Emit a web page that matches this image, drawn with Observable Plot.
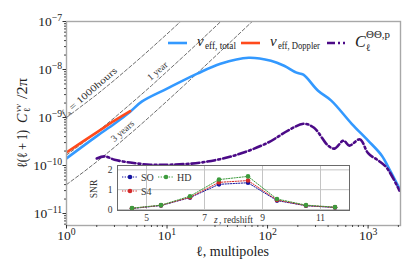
<!DOCTYPE html>
<html><head><meta charset="utf-8">
<script src="https://cdn.jsdelivr.net/npm/d3@7"></script>
<script src="https://cdn.jsdelivr.net/npm/@observablehq/plot@0.6"></script>
<style>
body{margin:0;background:#fff;}
#wrap{position:relative;width:415px;height:272px;overflow:hidden;background:#fff;font-family:"Liberation Serif","Times New Roman","DejaVu Serif",serif}
#wrap svg{position:absolute;}
#wrap text{font-family:"Liberation Serif","Times New Roman","DejaVu Serif",serif}
</style></head><body><div id="wrap"></div>
<script>
// ---- main panel data ----
const ellTotal = [1, 2, 3, 4.3, 5.6, 10, 20, 34, 65, 108, 146, 194, 227, 318, 430, 687, 1000, 1370, 1650, 2050];
const vTotal   = [1.41e-10, 4.1e-10, 7.4e-10, 1.32e-9, 2.14e-9, 4.0e-9, 8.2e-9, 1.32e-8, 1.76e-8, 1.52e-8, 1.2e-8, 8.6e-9, 7.8e-9, 3.6e-9, 2.25e-9, 7.4e-10, 3.3e-10, 1.6e-10, 7.9e-11, 3.3e-11];
const ellDop   = [1, 2, 3, 4.3];
const vDop     = [1.87e-10, 4.9e-10, 8.6e-10, 1.36e-9];
const ellTheta = [2, 2.4, 3, 4.3, 6.8, 10.8, 21.6, 46, 101, 161, 230, 290, 400, 463, 570, 650, 830, 1000, 1270, 1530, 2050];
const vTheta   = [1.4e-10, 1.55e-10, 1.32e-10, 1.15e-10, 1.04e-10, 1.04e-10, 1.15e-10, 1.6e-10, 3.0e-10, 5.4e-10, 7.4e-10, 6.1e-10, 2.6e-10, 2.25e-10, 3.3e-10, 2.6e-10, 3.5e-10, 1.8e-10, 1.26e-10, 9e-11, 3e-11];
const ellNoise = [1, 1.5, 2, 3, 5, 7, 10, 15, 20, 30, 50, 70, 100];
const n1000h   = [1e-9, 1.9e-9, 3e-9, 6e-9, 1.5e-8, 2.8e-8, 5.5e-8, 1.2e-7, 2.1e-7, 4.6e-7, 1.3e-6, 2.5e-6, 5e-6];
const n1yr     = [1.65e-10, 3.1e-10, 4.95e-10, 9.9e-10, 2.48e-9, 4.6e-9, 9.1e-9, 1.98e-8, 3.47e-8, 7.7e-8, 2.1e-7, 4.1e-7, 8.3e-7];
const n3yr     = [4e-11, 7.5e-11, 1.2e-10, 2.4e-10, 6e-10, 1.12e-9, 2.2e-9, 4.8e-9, 8.4e-9, 1.86e-8, 5.1e-8, 9.9e-8, 2.02e-7];
const noiseLabelEll = [1.9, 8.9, 4.0];
const noiseLabelV   = [2.75e-9, 7.3e-9, 4.1e-10];
const xMajor = [1, 10, 100, 1000];
const yMajor = [1e-11, 1e-10, 1e-9, 1e-8, 1e-7];

// ---- inset data ----
const zs     = [4.5, 5.5, 6.5, 7.5, 8.5, 9.5, 10.5, 11.5];
const snrSO  = [0.05, 0.2, 0.6, 1.27, 1.35, 0.45, 0.19, 0.1];
const snrS4  = [0.06, 0.21, 0.62, 1.37, 1.46, 0.48, 0.2, 0.11];
const snrHD  = [0.07, 0.22, 0.67, 1.51, 1.67, 0.53, 0.22, 0.12];
const insetXTicks = [5, 7, 9, 11];
const insetYTicks = [0, 1, 2];

const W = 415, H = 272;
const serif = "Liberation Serif, Times New Roman, DejaVu Serif, serif";
const ns = "http://www.w3.org/2000/svg";
const wrap = document.getElementById("wrap");

const rows = (xs, ys, kx, ky) => xs.map((v, i) => ({[kx]: v, [ky]: ys[i]}));
const total = rows(ellTotal, vTotal, "ell", "v");
const dop = rows(ellDop, vDop, "ell", "v");
const theta = rows(ellTheta, vTheta, "ell", "v");
const nA = rows(ellNoise, n1000h, "ell", "v");
const nB = rows(ellNoise, n1yr, "ell", "v");
const nC = rows(ellNoise, n3yr, "ell", "v");

const yLo = Math.pow(10, -11.25);
const minorX = [], minorY = [];
for (let k = 0; k < 4; k++) for (let m = 2; m < 10; m++) { const v = m * Math.pow(10, k); if (v <= 2100) minorX.push(v); }
for (let k = -12; k < -7; k++) for (let m = 2; m < 10; m++) { const v = m * Math.pow(10, k); if (v >= yLo && v <= 1e-7) minorY.push(v); }

const expFmt = d => "10^" + Math.round(Math.log10(d));
const dashStyle = {x: "ell", y: "v", stroke: "#6e6e6e", strokeWidth: 1, strokeDasharray: "3.5,2.2", clip: true};

const main = Plot.plot({
  width: W, height: H, marginLeft: 66, marginRight: 15, marginTop: 21, marginBottom: 47,
  style: {fontFamily: serif, fontSize: "13.5px", background: "transparent", color: "#222"},
  x: {type: "log", domain: [1, 2100], label: null},
  y: {type: "log", domain: [yLo, 1e-7], label: null},
  marks: [
    Plot.line(nA, dashStyle),
    Plot.line(nB, dashStyle),
    Plot.line(nC, dashStyle),
    Plot.line(total, {x: "ell", y: "v", stroke: "#3399ff", strokeWidth: 2.6, curve: "catmull-rom", clip: true}),
    Plot.line(dop, {x: "ell", y: "v", stroke: "#ff4a1c", strokeWidth: 2.6, curve: "catmull-rom", clip: true}),
    Plot.line(theta, {x: "ell", y: "v", stroke: "#4b0a87", strokeWidth: 2.6, strokeDasharray: "8,3,2,3", curve: "catmull-rom", clip: true}),
    Plot.frame({stroke: "#a8a8a8", strokeWidth: 1.4}),
    Plot.axisX(minorX, {tickSize: 2, tickFormat: () => "", stroke: "#444", label: null}),
    Plot.axisX(xMajor, {tickSize: 3.5, tickPadding: 1, tickFormat: expFmt, stroke: "#333", fill: "#222", label: null}),
    Plot.axisY(minorY, {tickSize: 2, tickFormat: () => "", stroke: "#444", label: null}),
    Plot.axisY(yMajor, {tickSize: 3.5, tickPadding: 1, tickFormat: expFmt, stroke: "#333", fill: "#222", label: null})
  ]
});
main.style.left = "0px"; main.style.top = "0px";
wrap.appendChild(main);

// superscript exponents in tick labels
main.querySelectorAll("text").forEach(t => {
  const m = t.textContent.match(/^10\^(-?\d+)$/);
  if (m) {
    t.textContent = "10";
    const ts = document.createElementNS(ns, "tspan");
    ts.setAttribute("dy", "-0.45em");
    ts.setAttribute("font-size", "0.72em");
    ts.textContent = m[1].replace("-", "\u2212");
    t.appendChild(ts);
  }
});

// ---- inset ----
const cSO = "#1414a0", cS4 = "#d42a2a", cHD = "#3d9b3d";
const so = rows(zs, snrSO, "z", "s"), s4 = rows(zs, snrS4, "z", "s"), hd = rows(zs, snrHD, "z", "s");
const series = (d, c) => [
  Plot.line(d, {x: "z", y: "s", stroke: c, strokeWidth: 1, strokeDasharray: "1.3,1.4"}),
  Plot.dot(d, {x: "z", y: "s", fill: c, r: 2.3})
];
const inset = Plot.plot({
  width: 280, height: 72, marginLeft: 37, marginRight: 11, marginTop: 5, marginBottom: 22,
  style: {fontFamily: serif, fontSize: "9.5px", background: "transparent", color: "#333"},
  x: {domain: [4, 12], label: null},
  y: {domain: [-0.05, 2.22], label: null},
  marks: [
    Plot.frame({fill: "white"}),
    Plot.gridX(insetXTicks, {stroke: "#c4c4c4", strokeOpacity: 1}),
    Plot.gridY(insetYTicks, {stroke: "#c4c4c4", strokeOpacity: 1}),
    ...series(so, cSO),
    ...series(s4, cS4),
    ...series(hd, cHD),
    Plot.frame({stroke: "#6a6a6a", strokeWidth: 1}),
    Plot.axisX(insetXTicks, {tickSize: 0, tickPadding: 4, label: null}),
    Plot.axisY(insetYTicks, {tickSize: 0, tickPadding: 5, label: null})
  ]
});
inset.style.left = "80px"; inset.style.top = "160px";
wrap.appendChild(inset);

// ---- overlay texts: legend, axis labels, annotations ----
const ov = document.createElementNS(ns, "svg");
ov.setAttribute("width", W); ov.setAttribute("height", H);
ov.style.left = "0px"; ov.style.top = "0px";
wrap.appendChild(ov);
function el(tag, attrs, parent) {
  const e = document.createElementNS(ns, tag);
  for (const k in attrs) e.setAttribute(k, attrs[k]);
  (parent || ov).appendChild(e); return e;
}
function T(x, y, s, o = {}) {
  const a = {x, y, "font-size": o.size || 14, fill: o.fill || "#222"};
  if (o.italic) a["font-style"] = "italic";
  if (o.anchor) a["text-anchor"] = o.anchor;
  if (o.len) { a.textLength = o.len; a.lengthAdjust = "spacingAndGlyphs"; }
  const t = el("text", a, o.parent); t.textContent = s; return t;
}

// main legend
el("line", {x1: 168, x2: 187, y1: 43, y2: 43, stroke: "#3399ff", "stroke-width": 2.6});
T(197, 46, "v", {size: 15, italic: true});
T(205, 49, "eff, total", {size: 9.5, len: 31});
el("line", {x1: 241, x2: 260, y1: 43, y2: 43, stroke: "#ff4a1c", "stroke-width": 2.6});
T(270, 46, "v", {size: 15, italic: true});
T(278, 49, "eff, Doppler", {size: 9.5, len: 42});
el("line", {x1: 327, x2: 345, y1: 43, y2: 43, stroke: "#4b0a87", "stroke-width": 2.6, "stroke-dasharray": "8,3,2,3"});
T(355, 47, "C", {size: 16, italic: true});
T(366, 51, "\u2113", {size: 10});
T(366, 38, "\u0398\u0398,p", {size: 9.5, len: 24});

// y label
const gy = el("g", {transform: "translate(27,123) rotate(-90)"});
T(-45, 0, "\u2113(\u2113 + 1)", {size: 14, parent: gy, len: 38});
T(0, 0, "C", {size: 14, italic: true, parent: gy});
T(11, 3, "\u2113", {size: 9, parent: gy});
T(11, -6, "vv", {size: 9, italic: true, parent: gy});
T(24, 0, "/2\u03c0", {size: 14, parent: gy, len: 21});

// x label
T(196, 256, "\u2113, multipoles", {size: 14, len: 73});

// noise line labels anchored via the library's scales
const sx = main.scale("x"), sy = main.scale("y");
const ang = -41;
const g0 = el("g", {transform: `translate(${sx.apply(noiseLabelEll[0])},${sy.apply(noiseLabelV[0])}) rotate(${ang})`});
T(-36, -3, "f", {size: 10, italic: true, parent: g0, fill: "#333"});
T(-31.5, -1, "a", {size: 7, parent: g0, fill: "#333"});
T(-26, -3, "= 1000hours", {size: 9.5, parent: g0, fill: "#333", len: 60});
const g1 = el("g", {transform: `translate(${sx.apply(noiseLabelEll[1])},${sy.apply(noiseLabelV[1])}) rotate(${ang})`});
T(0, -3, "1 year", {size: 9.5, anchor: "middle", parent: g1, fill: "#333"});
const g2 = el("g", {transform: `translate(${sx.apply(noiseLabelEll[2])},${sy.apply(noiseLabelV[2])}) rotate(${ang})`});
T(0, -3, "3 years", {size: 9.5, anchor: "middle", parent: g2, fill: "#333"});

// inset labels and legend
const gs = el("g", {transform: "translate(97,189) rotate(-90)"});
T(0, 0, "SNR", {size: 9.5, anchor: "middle", parent: gs, fill: "#333"});
T(214, 222.5, "z", {size: 9.5, italic: true, fill: "#333"});
T(219, 222.5, ", redshift", {size: 9.5, fill: "#333", len: 34});
function legItem(x, y, c, label) {
  el("line", {x1: x - 8, x2: x + 8, y1: y, y2: y, stroke: c, "stroke-width": 1, "stroke-dasharray": "1.3,1.4"});
  el("circle", {cx: x, cy: y, r: 2.3, fill: c});
  T(x + 11, y + 3.5, label, {size: 10, fill: "#333"});
}
legItem(130, 177, cSO, "SO");
legItem(130, 191, cS4, "S4");
legItem(166, 177, cHD, "HD");
</script></body></html>
